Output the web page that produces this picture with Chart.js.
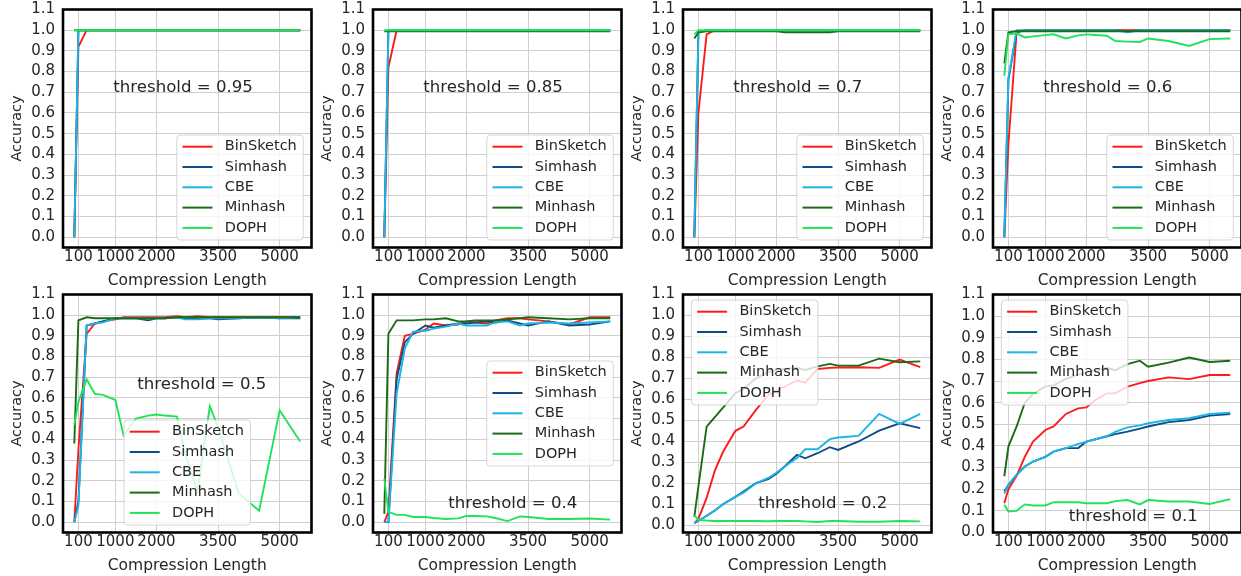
<!DOCTYPE html>
<html><head><meta charset="utf-8">
<script src="https://cdn.jsdelivr.net/npm/chart.js"></script>
<style>
html,body{margin:0;padding:0;background:#fff;width:1241px;height:576px;overflow:hidden;}
#wrap{position:relative;width:1241px;height:576px;background:#fff;}
#wrap canvas{position:absolute;}
</style></head><body><div id="wrap"></div>
<script>
// ---------------- data ----------------
const compressionLengths = [0, 100, 300, 500, 700, 1000, 1200, 1500, 1800, 2000, 2200, 2500, 2700, 3000, 3300, 3500, 4000, 4500, 5000, 5500];
const xTickValues = [100, 1000, 2000, 3500, 5000];
const yTickValues = [0, 0.1, 0.2, 0.3, 0.4, 0.5, 0.6, 0.7, 0.8, 0.9, 1.0, 1.1];
const seriesNames = ['BinSketch', 'Simhash', 'CBE', 'Minhash', 'DOPH'];
const thresholds = ['0.95', '0.85', '0.7', '0.6', '0.5', '0.4', '0.2', '0.1'];

const binsketch_095 = [0.00, 0.92, 1.00, 1.00, 1.00, 1.00, 1.00, 1.00, 1.00, 1.00, 1.00, 1.00, 1.00, 1.00, 1.00, 1.00, 1.00, 1.00, 1.00, 1.00];
const simhash_095   = [0.00, 1.00, 1.00, 1.00, 1.00, 1.00, 1.00, 1.00, 1.00, 1.00, 1.00, 1.00, 1.00, 1.00, 1.00, 1.00, 1.00, 1.00, 1.00, 1.00];
const cbe_095       = [0.00, 1.00, 1.00, 1.00, 1.00, 1.00, 1.00, 1.00, 1.00, 1.00, 1.00, 1.00, 1.00, 1.00, 1.00, 1.00, 1.00, 1.00, 1.00, 1.00];
const minhash_095   = [1.00, 1.00, 1.00, 1.00, 1.00, 1.00, 1.00, 1.00, 1.00, 1.00, 1.00, 1.00, 1.00, 1.00, 1.00, 1.00, 1.00, 1.00, 1.00, 1.00];
const doph_095      = [1.00, 1.00, 1.00, 1.00, 1.00, 1.00, 1.00, 1.00, 1.00, 1.00, 1.00, 1.00, 1.00, 1.00, 1.00, 1.00, 1.00, 1.00, 1.00, 1.00];

const binsketch_085 = [0.00, 0.82, 1.00, 1.00, 1.00, 1.00, 1.00, 1.00, 1.00, 1.00, 1.00, 1.00, 1.00, 1.00, 1.00, 1.00, 1.00, 1.00, 1.00, 1.00];
const simhash_085   = [0.00, 1.00, 1.00, 1.00, 1.00, 1.00, 1.00, 1.00, 1.00, 1.00, 1.00, 1.00, 1.00, 1.00, 1.00, 1.00, 1.00, 1.00, 1.00, 1.00];
const cbe_085       = [0.00, 1.00, 1.00, 1.00, 1.00, 1.00, 1.00, 1.00, 1.00, 1.00, 1.00, 1.00, 1.00, 1.00, 1.00, 1.00, 1.00, 1.00, 1.00, 1.00];
const minhash_085   = [0.995, 0.995, 0.995, 0.995, 0.995, 0.995, 0.995, 0.995, 0.995, 0.995, 0.995, 0.995, 0.995, 0.995, 0.995, 0.995, 0.995, 0.995, 0.995, 0.995];
const doph_085      = [1.00, 1.00, 1.00, 1.00, 1.00, 1.00, 1.00, 1.00, 1.00, 1.00, 1.00, 1.00, 1.00, 1.00, 1.00, 1.00, 1.00, 1.00, 1.00, 1.00];

const binsketch_07 = [0.00, 0.60, 0.98, 1.00, 1.00, 1.00, 1.00, 1.00, 1.00, 1.00, 1.00, 1.00, 1.00, 1.00, 1.00, 1.00, 1.00, 1.00, 1.00, 1.00];
const simhash_07   = [0.00, 0.99, 1.00, 1.00, 1.00, 1.00, 1.00, 1.00, 1.00, 1.00, 1.00, 1.00, 1.00, 1.00, 1.00, 1.00, 1.00, 1.00, 1.00, 1.00];
const cbe_07       = [0.00, 0.99, 1.00, 1.00, 1.00, 1.00, 1.00, 1.00, 1.00, 1.00, 1.00, 1.00, 1.00, 1.00, 1.00, 1.00, 1.00, 1.00, 1.00, 1.00];
const minhash_07   = [0.96, 0.99, 0.995, 0.995, 0.995, 0.995, 0.995, 0.995, 0.995, 0.995, 0.99, 0.99, 0.99, 0.99, 0.99, 0.995, 0.995, 0.995, 0.995, 0.995];
const doph_07      = [0.98, 1.00, 1.00, 1.00, 1.00, 1.00, 1.00, 1.00, 1.00, 1.00, 1.00, 1.00, 1.00, 1.00, 1.00, 1.00, 1.00, 1.00, 1.00, 1.00];

const binsketch_06 = [0.00, 0.45, 0.99, 1.00, 1.00, 1.00, 1.00, 1.00, 1.00, 1.00, 1.00, 1.00, 1.00, 1.00, 1.00, 1.00, 1.00, 1.00, 1.00, 1.00];
const simhash_06   = [0.00, 0.76, 0.99, 1.00, 1.00, 1.00, 1.00, 1.00, 1.00, 1.00, 1.00, 1.00, 1.00, 0.995, 1.00, 1.00, 1.00, 1.00, 1.00, 1.00];
const cbe_06       = [0.00, 0.77, 1.00, 1.00, 1.00, 1.00, 1.00, 1.00, 1.00, 1.00, 1.00, 1.00, 1.00, 0.99, 1.00, 1.00, 1.00, 1.00, 1.00, 1.00];
const minhash_06   = [0.84, 0.99, 0.995, 0.995, 0.995, 0.995, 0.995, 0.995, 0.995, 0.995, 0.995, 0.995, 0.995, 0.995, 0.995, 0.995, 0.995, 0.995, 0.995, 0.995];
const doph_06      = [0.78, 0.98, 0.985, 0.965, 0.970, 0.976, 0.980, 0.960, 0.975, 0.980, 0.977, 0.973, 0.948, 0.945, 0.943, 0.960, 0.948, 0.924, 0.957, 0.960];

const binsketch_05 = [0.00, 0.35, 0.91, 0.96, 0.97, 0.98, 0.99, 0.99, 0.99, 0.99, 0.99, 0.995, 0.99, 0.995, 0.99, 0.99, 0.99, 0.99, 0.99, 0.99];
const simhash_05   = [0.00, 0.10, 0.95, 0.96, 0.97, 0.985, 0.985, 0.985, 0.975, 0.985, 0.985, 0.99, 0.985, 0.985, 0.985, 0.98, 0.985, 0.99, 0.985, 0.985];
const cbe_05       = [0.00, 0.08, 0.95, 0.96, 0.965, 0.985, 0.985, 0.985, 0.985, 0.985, 0.985, 0.99, 0.98, 0.98, 0.985, 0.985, 0.985, 0.99, 0.985, 0.99];
const minhash_05   = [0.38, 0.975, 0.99, 0.985, 0.985, 0.985, 0.985, 0.985, 0.985, 0.985, 0.985, 0.99, 0.99, 0.99, 0.99, 0.99, 0.99, 0.99, 0.99, 0.99];
const doph_05      = [0.47, 0.58, 0.69, 0.62, 0.615, 0.59, 0.42, 0.50, 0.515, 0.52, 0.515, 0.51, 0.33, 0.15, 0.56, 0.46, 0.14, 0.055, 0.54, 0.39];

const binsketch_04 = [0.00, 0.05, 0.72, 0.90, 0.91, 0.93, 0.96, 0.95, 0.955, 0.97, 0.965, 0.96, 0.975, 0.985, 0.985, 0.98, 0.97, 0.955, 0.99, 0.99];
const simhash_04   = [0.00, 0.00, 0.69, 0.87, 0.91, 0.95, 0.94, 0.95, 0.96, 0.96, 0.965, 0.97, 0.965, 0.975, 0.96, 0.95, 0.97, 0.95, 0.955, 0.97];
const cbe_04       = [0.00, 0.00, 0.62, 0.84, 0.92, 0.925, 0.935, 0.945, 0.96, 0.95, 0.95, 0.95, 0.965, 0.97, 0.95, 0.96, 0.965, 0.96, 0.965, 0.97];
const minhash_04   = [0.04, 0.91, 0.975, 0.975, 0.975, 0.98, 0.98, 0.985, 0.97, 0.97, 0.975, 0.975, 0.975, 0.98, 0.985, 0.99, 0.985, 0.98, 0.985, 0.985];
const doph_04      = [0.21, 0.05, 0.035, 0.035, 0.025, 0.025, 0.02, 0.015, 0.018, 0.03, 0.03, 0.028, 0.02, 0.005, 0.028, 0.025, 0.015, 0.015, 0.018, 0.012];

const binsketch_02 = [0.01, 0.03, 0.13, 0.26, 0.35, 0.45, 0.47, 0.55, 0.62, 0.64, 0.66, 0.69, 0.68, 0.745, 0.75, 0.752, 0.753, 0.75, 0.79, 0.754];
const simhash_02   = [0.01, 0.02, 0.045, 0.07, 0.10, 0.135, 0.16, 0.20, 0.22, 0.245, 0.28, 0.335, 0.319, 0.343, 0.372, 0.359, 0.399, 0.451, 0.486, 0.463];
const cbe_02       = [0.01, 0.02, 0.045, 0.07, 0.10, 0.135, 0.155, 0.20, 0.225, 0.25, 0.28, 0.32, 0.362, 0.362, 0.41, 0.418, 0.426, 0.531, 0.483, 0.531];
const minhash_02   = [0.04, 0.185, 0.47, 0.515, 0.56, 0.63, 0.65, 0.70, 0.73, 0.74, 0.745, 0.75, 0.74, 0.757, 0.769, 0.761, 0.761, 0.794, 0.777, 0.781];
const doph_02      = [0.048, 0.025, 0.022, 0.02, 0.02, 0.02, 0.02, 0.02, 0.019, 0.02, 0.02, 0.02, 0.018, 0.015, 0.02, 0.02, 0.016, 0.016, 0.02, 0.018];

const binsketch_01 = [0.135, 0.20, 0.262, 0.35, 0.42, 0.474, 0.49, 0.548, 0.574, 0.578, 0.61, 0.643, 0.643, 0.674, 0.69, 0.70, 0.717, 0.709, 0.728, 0.728];
const simhash_01   = [0.19, 0.22, 0.266, 0.305, 0.328, 0.35, 0.374, 0.39, 0.39, 0.42, 0.43, 0.445, 0.455, 0.466, 0.48, 0.49, 0.51, 0.52, 0.54, 0.548];
const cbe_01       = [0.18, 0.22, 0.266, 0.305, 0.328, 0.35, 0.374, 0.39, 0.41, 0.42, 0.43, 0.445, 0.465, 0.486, 0.495, 0.505, 0.52, 0.528, 0.548, 0.554];
const minhash_01   = [0.26, 0.397, 0.49, 0.60, 0.64, 0.675, 0.68, 0.71, 0.73, 0.74, 0.75, 0.76, 0.75, 0.778, 0.794, 0.766, 0.785, 0.809, 0.788, 0.794];
const doph_01      = [0.128, 0.097, 0.10, 0.13, 0.125, 0.125, 0.14, 0.14, 0.14, 0.135, 0.135, 0.135, 0.145, 0.15, 0.13, 0.15, 0.143, 0.143, 0.132, 0.154];

// ---------------- styling / layout ----------------
const seriesColors = ['#ff1a1a', '#0f4c81', '#1cb5e6', '#1b6b14', '#21e35a'];
const TXT = '#262626';
const FONT = 'DejaVu Sans';
const CW = 320, CH = 290;

const panels = [
  {series: [binsketch_095, simhash_095, cbe_095, minhash_095, doph_095], yMin: -0.05, legend: 'lower right', tx: 950, ty: 0.72},
  {series: [binsketch_085, simhash_085, cbe_085, minhash_085, doph_085], yMin: -0.05, legend: 'lower right', tx: 950, ty: 0.72},
  {series: [binsketch_07, simhash_07, cbe_07, minhash_07, doph_07], yMin: -0.05, legend: 'lower right', tx: 950, ty: 0.72},
  {series: [binsketch_06, simhash_06, cbe_06, minhash_06, doph_06], yMin: -0.05, legend: 'lower right', tx: 950, ty: 0.72},
  {series: [binsketch_05, simhash_05, cbe_05, minhash_05, doph_05], yMin: -0.05, legend: 'lower center', tx: 1534, ty: 0.662},
  {series: [binsketch_04, simhash_04, cbe_04, minhash_04, doph_04], yMin: -0.05, legend: 'center right', tx: 1558, ty: 0.088},
  {series: [binsketch_02, simhash_02, cbe_02, minhash_02, doph_02], yMin: -0.035, legend: 'upper left', tx: 1558, ty: 0.101},
  {series: [binsketch_01, simhash_01, cbe_01, minhash_01, doph_01], yMin: 0.0, legend: 'upper left', tx: 1570, ty: 0.073},
];

function roundRect(ctx, x, y, w, h, r) {
  ctx.beginPath();
  ctx.moveTo(x + r, y);
  ctx.lineTo(x + w - r, y); ctx.quadraticCurveTo(x + w, y, x + w, y + r);
  ctx.lineTo(x + w, y + h - r); ctx.quadraticCurveTo(x + w, y + h, x + w - r, y + h);
  ctx.lineTo(x + r, y + h); ctx.quadraticCurveTo(x, y + h, x, y + h - r);
  ctx.lineTo(x, y + r); ctx.quadraticCurveTo(x, y, x + r, y);
  ctx.closePath();
}

const panelDecor = {
  id: 'panelDecor',
  afterDatasetsDraw(chart, args, opts) {
    const {ctx, chartArea: a, scales} = chart;
    ctx.save();
    // frame (spines)
    ctx.strokeStyle = '#000'; ctx.lineWidth = 2.6;
    ctx.strokeRect(a.left, a.top, a.right - a.left, a.bottom - a.top);
    // threshold annotation
    ctx.fillStyle = TXT;
    ctx.font = '16.6px "' + FONT + '"';
    ctx.textAlign = 'left'; ctx.textBaseline = 'middle';
    ctx.fillText('threshold = ' + opts.threshold, scales.x.getPixelForValue(opts.tx), scales.y.getPixelForValue(opts.ty));
    // legend
    ctx.font = '14.5px "' + FONT + '"';
    const tw = Math.max(...seriesNames.map(n => ctx.measureText(n).width));
    const bw = 48 + tw + 6.5, bh = 105;
    let bx, by;
    if (opts.legend === 'lower right') { bx = a.right - 8.2 - bw; by = a.bottom - 7.5 - bh; }
    else if (opts.legend === 'upper left') { bx = a.left + 8.4; by = a.top + 5.5; }
    else if (opts.legend === 'lower center') { bx = (a.left + a.right) / 2 - bw / 2; by = a.bottom - 7.5 - bh; }
    else { bx = a.right - 8.2 - bw; by = (a.top + a.bottom) / 2 - bh / 2; }
    roundRect(ctx, bx, by, bw, bh, 3.5);
    ctx.fillStyle = 'rgba(255,255,255,0.8)'; ctx.fill();
    ctx.strokeStyle = 'rgba(204,204,204,0.8)'; ctx.lineWidth = 1; ctx.stroke();
    seriesNames.forEach((n, i) => {
      const y = by + 11.7 + i * 20.3;
      ctx.strokeStyle = seriesColors[i]; ctx.lineWidth = 2;
      ctx.beginPath(); ctx.moveTo(bx + 5.7, y); ctx.lineTo(bx + 35.7, y); ctx.stroke();
      ctx.fillStyle = TXT; ctx.textBaseline = 'middle';
      ctx.fillText(n, bx + 48, y);
    });
    ctx.restore();
  }
};

const wrap = document.getElementById('wrap');
panels.forEach((p, k) => {
  const col = k % 4, row = Math.floor(k / 4);
  const cv = document.createElement('canvas');
  cv.width = CW; cv.height = CH;
  cv.style.left = (310 * col) + 'px';
  cv.style.top = (285 * row) + 'px';
  cv.style.width = CW + 'px'; cv.style.height = CH + 'px';
  wrap.appendChild(cv);
  const datasets = p.series.map((vals, i) => ({
    label: seriesNames[i],
    data: compressionLengths.map((x, j) => ({x: x, y: vals[j]})),
    borderColor: seriesColors[i],
    backgroundColor: seriesColors[i],
    borderWidth: 1.9,
    pointRadius: 0,
    tension: 0,
    fill: false,
    order: 5 - i
  }));
  new Chart(cv, {
    type: 'line',
    data: {datasets},
    plugins: [panelDecor],
    options: {
      responsive: false, animation: false, devicePixelRatio: 1,
      layout: {padding: {left: 0, top: 9.5, right: CW - 311.5, bottom: 0}},
      plugins: {
        legend: {display: false}, tooltip: {enabled: false},
        panelDecor: {threshold: thresholds[k], legend: p.legend, tx: p.tx, ty: p.ty}
      },
      scales: {
        x: {
          type: 'linear', min: -275, max: 5775,
          afterBuildTicks: s => { s.ticks = xTickValues.map(v => ({value: v})); },
          afterFit: s => { s.height = 42.5; s.paddingLeft = 0; s.paddingRight = 0; },
          ticks: {autoSkip: false, maxRotation: 0, minRotation: 0, padding: 1, color: TXT,
                  font: {family: FONT, size: 15}, callback: v => String(v)},
          grid: {color: '#cfcfcf', lineWidth: 1, drawTicks: false},
          border: {display: false},
          title: {display: true, text: 'Compression Length', color: TXT,
                  font: {family: FONT, size: 15.5}, padding: {top: 0, bottom: 0}}
        },
        y: {
          min: p.yMin, max: 1.1,
          afterBuildTicks: s => { s.ticks = yTickValues.map(v => ({value: v})); },
          afterFit: s => { s.width = 63; s.paddingTop = 0; s.paddingBottom = 0; },
          ticks: {autoSkip: false, padding: 8, color: TXT, font: {family: FONT, size: 15}, callback: v => v.toFixed(1)},
          grid: {color: '#cfcfcf', lineWidth: 1, drawTicks: false},
          border: {display: false},
          title: {display: true, text: 'Accuracy', color: TXT,
                  font: {family: FONT, size: 14.5}, padding: {top: 9, bottom: 0}}
        }
      }
    }
  });
});
</script>
</body></html>
